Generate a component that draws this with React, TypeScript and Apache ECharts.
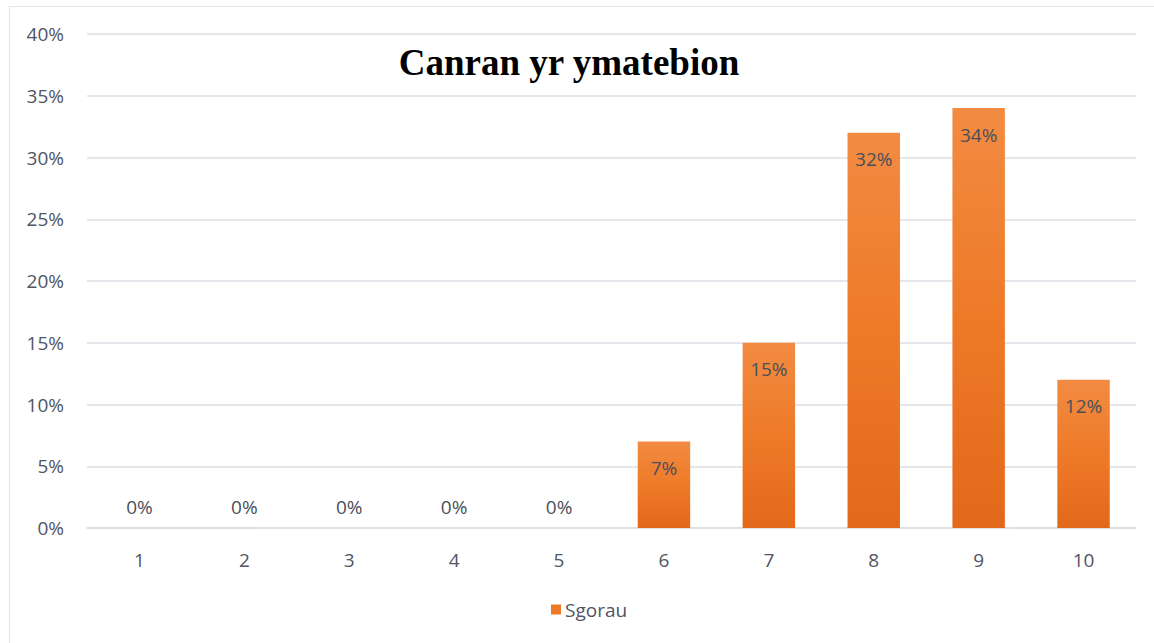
import React, { useEffect, useRef } from "react";
import * as echarts from "echarts";

const categories = ["1", "2", "3", "4", "5", "6", "7", "8", "9", "10"];
const percentValues = [0, 0, 0, 0, 0, 7, 15, 32, 34, 12];
const seriesName = "Sgorau";
const titleText = "Canran yr ymatebion";

export default function App() {
  const ref = useRef<HTMLDivElement>(null);
  useEffect(() => {
    if (!ref.current) return;
    const chart = echarts.init(ref.current, null, { renderer: "svg" });
    const barColor = new echarts.graphic.LinearGradient(0, 0, 0, 1, [
      { offset: 0, color: "#F28B42" },
      { offset: 0.5, color: "#EE7A28" },
      { offset: 1, color: "#E2691A" },
    ]);
    const data = percentValues.map((v) => ({
      value: v,
      label:
        v === 0
          ? { position: "top", distance: 12 }
          : { position: "insideTop", distance: 17 },
    }));
    chart.setOption({
      animation: false,
      backgroundColor: "#ffffff",
      title: {
        text: titleText,
        left: 564,
        top: 39,
        textAlign: "center",
        textStyle: {
          fontFamily: "Liberation Serif",
          fontWeight: "bold",
          fontSize: 37,
          color: "#000000",
        },
      },
      graphic: [
        { type: "line", shape: { x1: 9, y1: 6.5, x2: 1154, y2: 6.5 }, style: { stroke: "#e4e4e8", lineWidth: 1 } },
        { type: "line", shape: { x1: 9.5, y1: 6, x2: 9.5, y2: 643 }, style: { stroke: "#e4e4e8", lineWidth: 1 } },
      ],
      legend: {
        left: 546,
        top: 595,
        itemWidth: 10,
        itemHeight: 10,
        itemGap: 4,
        icon: "rect",
        textStyle: { fontFamily: "Open Sans", fontSize: 19, color: "#4f5563", padding: [0, 0, 0, -1] },
        data: [{ name: seriesName, itemStyle: { color: "#EE7A28" } }],
      },
      grid: { left: 87, right: 18, top: 34, bottom: 115 },
      xAxis: {
        type: "category",
        data: categories,
        axisTick: { show: false },
        axisLine: { lineStyle: { color: "#d9dce3", width: 1.5 } },
        axisLabel: { fontFamily: "Open Sans", fontSize: 19, color: "#4f5563", margin: 22 },
      },
      yAxis: {
        type: "value",
        min: 0,
        max: 40,
        interval: 5,
        axisLabel: { formatter: "{value}%", fontFamily: "Open Sans", fontSize: 19, color: "#4f5563", margin: 23 },
        splitLine: { lineStyle: { color: "#dcdfe6", width: 1.5 } },
        axisLine: { show: false },
        axisTick: { show: false },
      },
      series: [
        {
          name: seriesName,
          type: "bar",
          barWidth: "50%",
          data,
          itemStyle: { color: barColor },
          label: {
            show: true,
            formatter: "{c}%",
            fontFamily: "Open Sans",
            fontSize: 19,
            color: "#4a4f5a",
          },
        },
      ],
    });
    return () => chart.dispose();
  }, []);
  return (
    <div
      ref={ref}
      style={{ position: "fixed", left: 0, top: 0, width: 1154, height: 643 }}
    />
  );
}
